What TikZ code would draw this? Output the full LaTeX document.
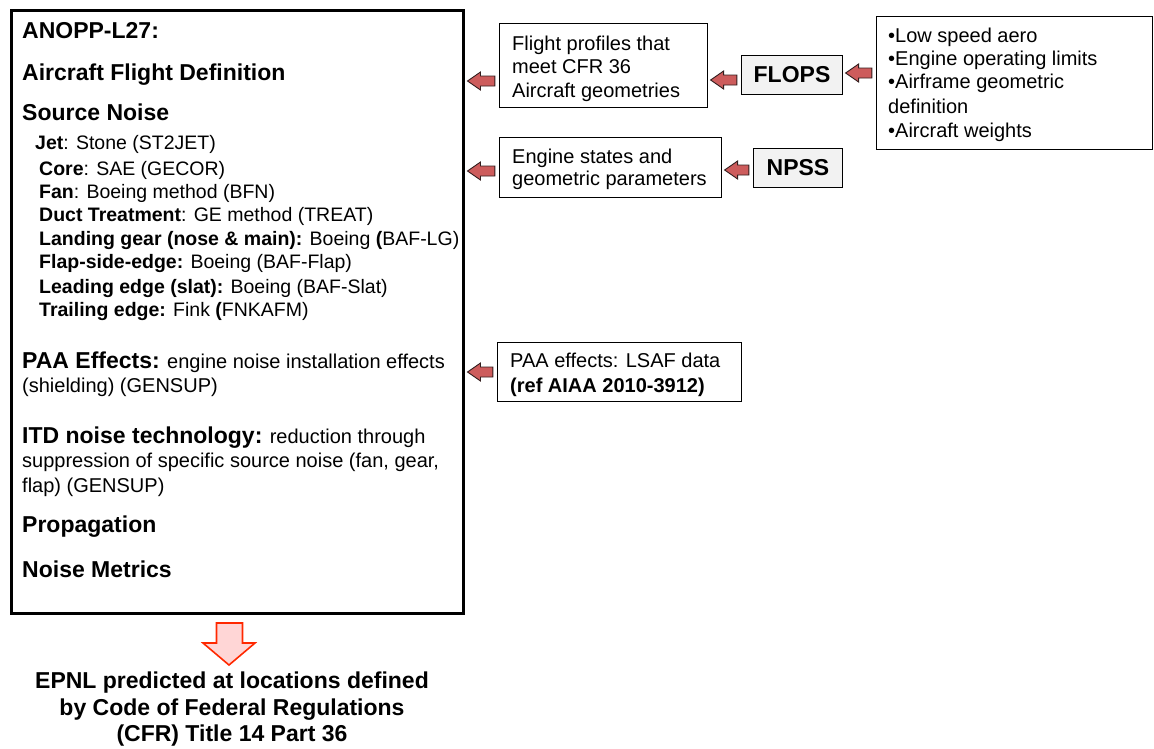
\documentclass[tikz,border=0pt]{standalone}
\usepackage{fontspec}
\setmainfont{Liberation Sans}
\usetikzlibrary{calc}
\definecolor{arrred}{RGB}{205,92,92}
\definecolor{arredge}{RGB}{50,30,30}
\definecolor{downfill}{RGB}{255,214,214}
\definecolor{downedge}{RGB}{255,40,0}
\definecolor{grayfill}{RGB}{242,242,242}
\newcommand{\hd}{\fontsize{23}{27}\selectfont\bfseries}
\newcommand{\rg}{\fontsize{20}{24}\selectfont\mdseries}
\newcommand{\subfs}{\fontsize{19.5}{23}\selectfont}
\newcommand{\lblock}[3]{%
  \draw[blockarr] let \p1=(#1), \p2=(#2) in
   (\x1+2.5pt,#3) -- (\x1+15.5pt,#3+9pt) -- (\x1+15.5pt,#3+5pt) -- (\x2-4pt,#3+5pt)
   -- (\x2-4pt,#3-5pt) -- (\x1+15.5pt,#3-5pt) -- (\x1+15.5pt,#3-9pt) -- cycle;}
\begin{document}
\begin{tikzpicture}[x=1pt,y=1pt,
  lin/.style={anchor=base west, inner sep=0pt},
  ctr/.style={anchor=base, inner sep=0pt},
  box/.style={draw, line width=1.2pt, inner sep=0pt, fill=white},
  graybox/.style={box, fill=grayfill},
  blockarr/.style={fill=arrred, draw=arredge, line width=0.9pt, line join=miter},
  downarr/.style={fill=downfill, draw=downedge, line width=1.6pt, line join=miter}]
\useasboundingbox (0,0) rectangle (1154,-748);

% main box
\node[draw, line width=3pt, minimum width=452pt, minimum height=603pt, inner sep=0pt] (main) at (237.5,-312) {};
\node[lin] (t1) at (22,-38) {\hd ANOPP-L27:};
\node[lin] (t2) at (22,-80) {\hd Aircraft Flight Definition};
\node[lin] (t3) at (22,-120) {\hd Source Noise};
\node[lin] (s1) at (35,-149) {\subfs\textbf{Jet}: Stone (ST2JET)};
\node[lin] (s2) at (39,-175) {\subfs\textbf{Core}: SAE (GECOR)};
\node[lin] (s3) at (39,-198) {\subfs\textbf{Fan}: Boeing method (BFN)};
\node[lin] (s4) at (39,-221) {\subfs\textbf{Duct Treatment}: GE method (TREAT)};
\node[lin] (s5) at (39,-245) {\subfs\textbf{Landing gear (nose \& main):} Boeing \textbf{(}BAF-LG)};
\node[lin] (s6) at (39,-268) {\subfs\textbf{Flap-side-edge:} Boeing (BAF-Flap)};
\node[lin] (s7) at (39,-293) {\subfs\textbf{Leading edge (slat):} Boeing (BAF-Slat)};
\node[lin] (s8) at (39,-316) {\subfs\textbf{Trailing edge:} Fink \textbf{(}FNKAFM)};
\node[lin] (p1) at (22,-368) {\rg{\hd PAA Effects:} engine noise installation effects};
\node[lin] (p2) at (22,-392) {\rg (shielding) (GENSUP)};
\node[lin] (i1) at (22,-443) {\rg{\hd ITD noise technology:} reduction through};
\node[lin] (i2) at (22,-467) {\rg suppression of specific source noise (fan, gear,};
\node[lin] (i3) at (22,-492) {\rg flap) (GENSUP)};
\node[lin] (pr) at (22,-532) {\hd Propagation};
\node[lin] (nm) at (22,-577) {\hd Noise Metrics};

% right boxes
\node[box, minimum width=208pt, minimum height=84pt] (b1) at (603.5,-65.5) {};
\node[lin] (b1a) at (512,-50) {\rg Flight profiles that};
\node[lin] (b1b) at (512,-73) {\rg meet CFR 36};
\node[lin] (b1c) at (512,-97) {\rg Aircraft geometries};

\node[graybox, minimum width=101pt, minimum height=39pt] (flops) at (792,-75) {\hd FLOPS};

\node[box, minimum width=276pt, minimum height=133pt] (inp) at (1014.5,-83) {};
\node[lin] (l1) at (888,-42) {\rg •Low speed aero};
\node[lin] (l2) at (888,-65) {\rg •Engine operating limits};
\node[lin] (l3) at (888,-88) {\rg •Airframe geometric};
\node[lin] (l4) at (888,-113) {\rg definition};
\node[lin] (l5) at (888,-137) {\rg •Aircraft weights};

\node[box, minimum width=222pt, minimum height=60pt] (b2) at (610.5,-167.5) {};
\node[lin] (b2a) at (512,-163) {\rg Engine states and};
\node[lin] (b2b) at (512,-185) {\rg geometric parameters};

\node[graybox, minimum width=89pt, minimum height=39pt] (npss) at (798,-168) {\hd NPSS};

\node[box, minimum width=244pt, minimum height=59pt] (b3) at (619.5,-372) {};
\node[lin] (b3a) at (510,-367) {\rg PAA effects: LSAF data};
\node[lin] (b3b) at (510,-392) {\rg\bfseries (ref AIAA 2010-3912)};

% block arrows
\lblock{main.east}{b1.west}{-81pt}
\lblock{b1.east}{flops.west}{-80pt}
\lblock{flops.east}{inp.west}{-73pt}
\lblock{main.east}{b2.west}{-171pt}
\lblock{b2.east}{npss.west}{-170pt}
\lblock{main.east}{b3.west}{-372pt}

% down arrow
\draw[downarr] let \p1=(main.south) in
  (\x1-21pt,\y1-8pt) -- (\x1+5pt,\y1-8pt) -- (\x1+5pt,\y1-28pt) -- (\x1+17.5pt,\y1-28pt)
  -- (\x1-8.5pt,\y1-50pt) -- (\x1-34.5pt,\y1-28pt) -- (\x1-21pt,\y1-28pt) -- cycle;

\node[ctr] (e1) at (232,-688) {\hd EPNL predicted at locations defined};
\node[ctr] (e2) at (232,-715) {\hd by Code of Federal Regulations};
\node[ctr] (e3) at (232,-741) {\hd (CFR) Title 14 Part 36};
\end{tikzpicture}
\end{document}
